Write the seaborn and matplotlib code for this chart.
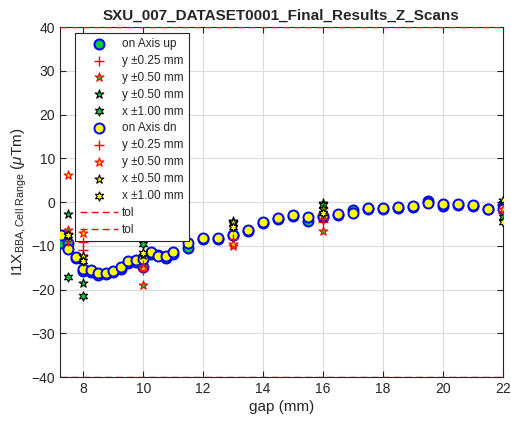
import numpy as np
import pandas as pd
import matplotlib
matplotlib.use("Agg")
import matplotlib.pyplot as plt
import seaborn as sns

# Gap positions of the on-axis scans
gap = [7.25, 7.5, 7.75, 8.0, 8.25, 8.5, 8.75, 9.0, 9.25, 9.5, 9.75, 10.0,
       10.25, 10.5, 10.75, 11.0, 11.5, 12.0, 12.5, 13.0, 13.5, 14.0, 14.5,
       15.0, 15.5, 16.0, 16.5, 17.0, 17.5, 18.0, 18.5, 19.0, 19.5, 20.0,
       20.5, 21.0, 21.5, 22.0]

# On-axis results, gap closing (up) and opening (dn)
on_axis_up = [-9.4, -9.4, -12.8, -15.8, -16.0, -16.6, -16.5, -16.1, -15.3,
              -13.9, -13.7, -14.8, -11.9, -12.0, -12.7, -11.8, -10.6, -8.5,
              -8.5, -7.6, -6.6, -4.8, -3.9, -3.3, -4.3, -3.5, -3.0, -1.8,
              -1.6, -1.6, -1.4, -1.2, 0.2, -0.8, -0.7, -1.0, -1.7, -0.6]
on_axis_dn = [-7.5, -10.7, -12.6, -15.3, -15.5, -16.3, -16.3, -15.8, -14.8,
              -13.5, -13.3, -13.0, -11.5, -12.3, -12.3, -11.5, -9.4, -8.3,
              -8.2, -7.5, -6.4, -4.5, -3.7, -3.0, -3.4, -3.2, -2.7, -2.5,
              -1.3, -1.4, -1.1, -1.0, -0.2, -0.5, -0.5, -0.7, -1.5, -1.5]

# Gaps where the off-axis scans were taken
gap_off = [7.5, 8.0, 10.0, 13.0, 16.0, 22.0]

y025_up = [-7.0, -11.0, -15.5, -8.0, -4.5, -2.6]
y050_up = [-6.4, -12.5, -19.0, -10.0, -6.6, -1.1]
x050_up = [-2.8, -18.5, -14.0, -4.3, -0.3, -0.2]
x100_up = [-17.2, -21.5, -9.6, -5.0, -0.7, -3.5]

y025_dn = [-9.0, -9.1, -14.4, -8.5, -3.8, -2.0]
y050_dn = [6.1, -7.1, -15.0, -9.5, -3.0, -1.5]
x050_dn = [-7.5, -12.4, -12.0, -4.5, -1.5, 0.5]
x100_dn = [-7.5, -13.5, -11.7, -5.6, -2.5, -4.5]

tol = 40

sns.set_theme(style="ticks")
plt.rcParams["font.family"] = ["Liberation Sans", "DejaVu Sans"]
plt.rcParams["mathtext.fontset"] = "custom"
plt.rcParams["mathtext.rm"] = "Liberation Sans"
plt.rcParams["mathtext.it"] = "Liberation Sans:italic"

fig = plt.figure(figsize=(5.11, 4.26), dpi=100)
ax = fig.add_axes([0.1174, 0.115, 0.8666, 0.8216])

hexagram = (6, 1, 0)
s_main = 52
s_mark = 44

def scat(x, y, marker, face, edge, label, lw=0.8, s=s_mark, z=3):
    sns.scatterplot(x=x, y=y, marker=marker, s=s, color=face,
                    edgecolor=edge, linewidth=lw, label=label, ax=ax,
                    zorder=z)

scat(gap, on_axis_up, "o", "#00cc33", "blue", "on Axis up", lw=1.4, s=s_main, z=3)
scat(gap_off, y025_up, "+", "red", "red", "y \u00b10.25 mm", lw=1.0, s=60, z=4)
scat(gap_off, y050_up, "*", "#00cc33", "red", "y \u00b10.50 mm", z=4)
scat(gap_off, x050_up, "*", "#00cc33", "black", "y \u00b10.50 mm", z=4)
scat(gap_off, x100_up, hexagram, "#00cc33", "black", "x \u00b11.00 mm", z=4)
scat(gap, on_axis_dn, "o", "#ffff00", "blue", "on Axis dn", lw=1.4, s=s_main, z=5)
scat(gap_off, y025_dn, "+", "red", "red", "y \u00b10.25 mm", lw=1.0, s=60, z=6)
scat(gap_off, y050_dn, "*", "#ffcc00", "red", "y \u00b10.50 mm", z=6)
scat(gap_off, x050_dn, "*", "#ffff00", "black", "x \u00b10.50 mm", z=6)
scat(gap_off, x100_dn, hexagram, "#ffff00", "black", "x \u00b11.00 mm", z=6)

ax.axhline(tol, color="red", ls=(0, (5, 3)), lw=1.0, label="tol", zorder=7)
ax.axhline(-tol, color="red", ls=(0, (5, 3)), lw=1.0, label="tol", zorder=7)

ax.set_xlim(7.22, 22)
ax.set_ylim(-40, 40)
ax.set_xticks(np.arange(8, 23, 2))
ax.set_yticks(np.arange(-40, 41, 10))
ax.grid(True, color="#dcdcdc", lw=0.8)
ax.set_axisbelow(True)
for sp in ax.spines.values():
    sp.set_color("#262626")
    sp.set_linewidth(0.8)
ax.tick_params(direction="in", top=True, right=True, labelsize=10,
               colors="#262626", length=4, width=0.8)

ax.set_xlabel("gap (mm)", fontsize=11, color="#262626", labelpad=3)
ax.set_ylabel(r"I1X$_{\mathrm{BBA,Cell\ Range}}$ ($\mu$Tm)", fontsize=11,
              color="#262626", labelpad=2)
ax.set_title("SXU_007_DATASET0001_Final_Results_Z_Scans", fontsize=11,
             fontweight="bold", pad=5)

leg = ax.legend(loc="upper left", bbox_to_anchor=(0.034, 0.983),
                borderaxespad=0, fontsize=8.5, frameon=True, fancybox=False,
                framealpha=1, edgecolor="#262626", handlelength=3.2,
                labelspacing=0.42, borderpad=0.4, handletextpad=0.4)
leg.get_frame().set_linewidth(0.8)

fig.savefig("out.png", dpi=100)
